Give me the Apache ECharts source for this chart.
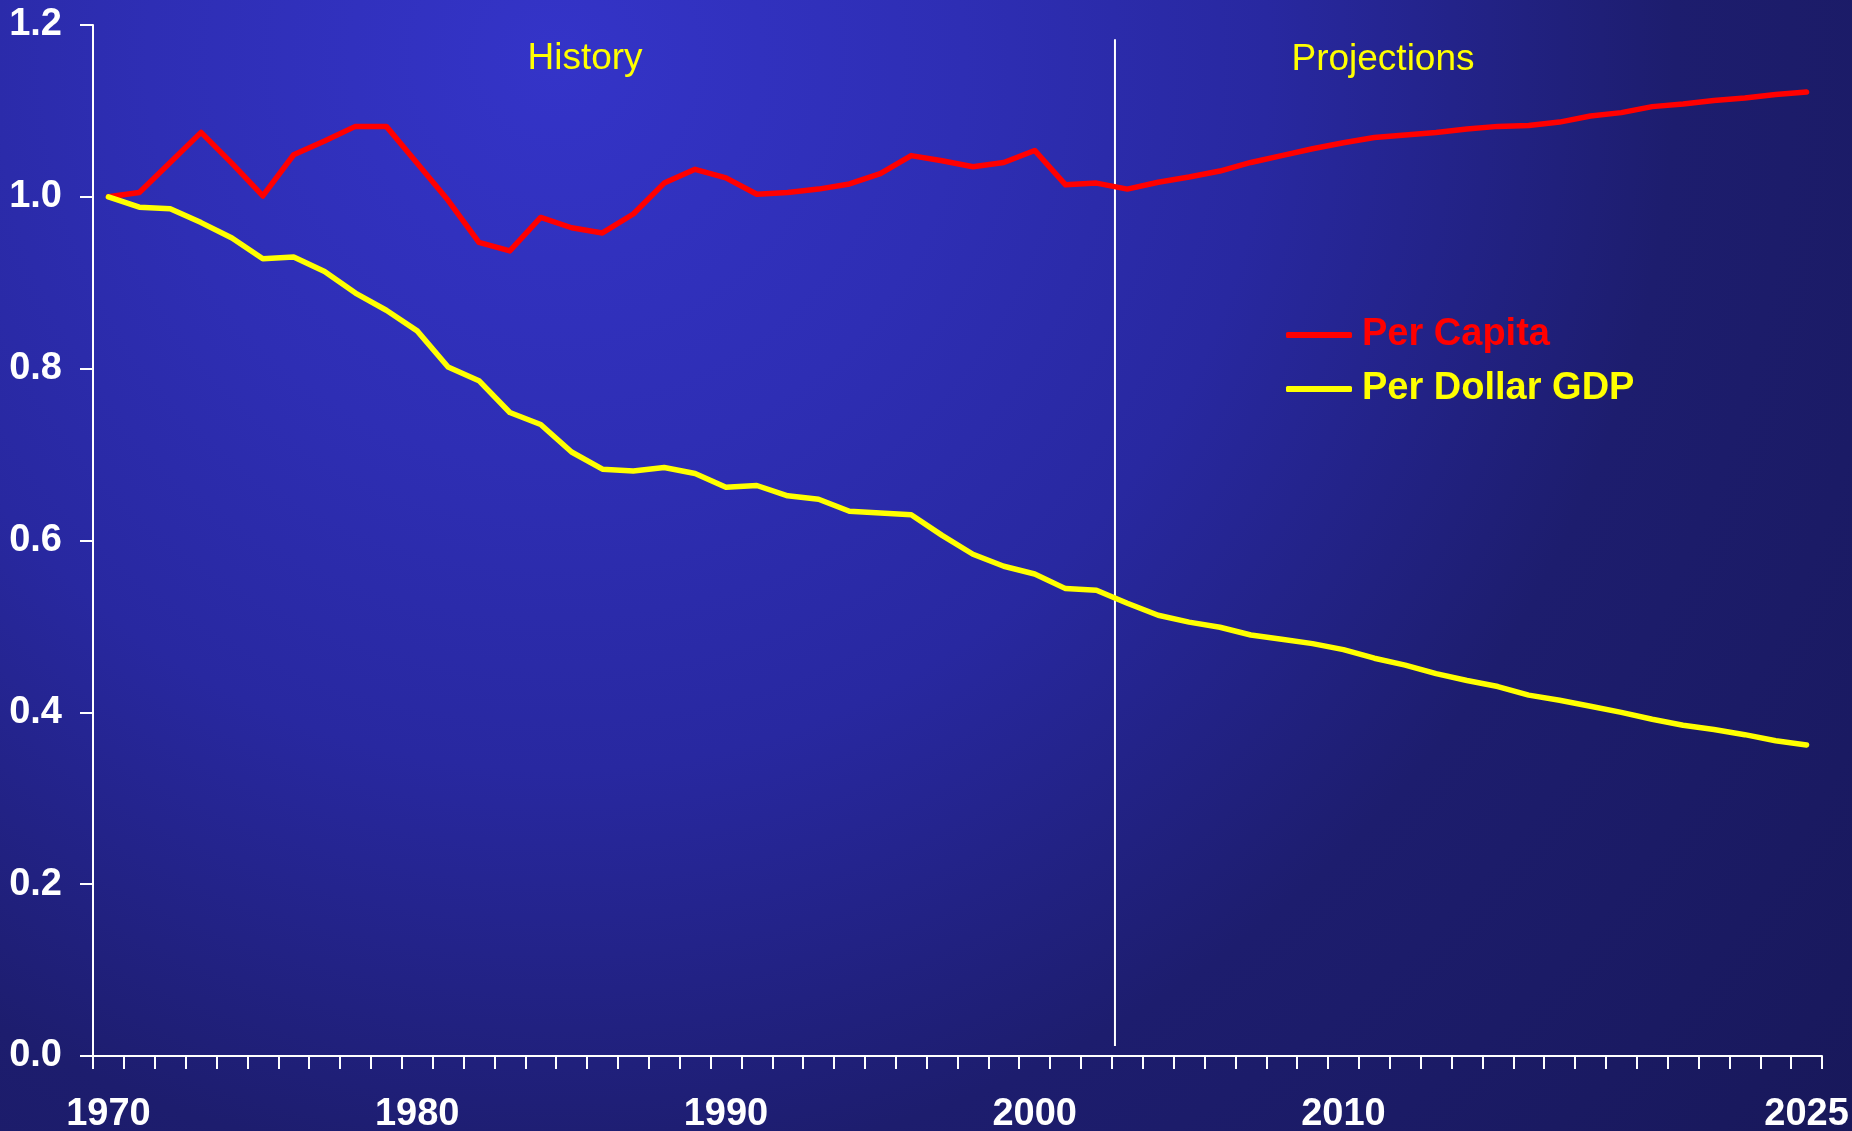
<!DOCTYPE html>
<html>
<head>
<meta charset="utf-8">
<script src="https://cdn.jsdelivr.net/npm/echarts@6/dist/echarts.min.js"></script>
<style>
html,body{margin:0;padding:0;background:#1c1c6a;}
#chart{width:1852px;height:1131px;}
</style>
</head>
<body>
<div id="chart"></div>
<script>
// ---- data ----
var years = [];
for (var y = 1970; y <= 2025; y++) years.push(String(y));

var perCapita = [
  1.000, 1.005, 1.040, 1.075, 1.039, 1.001, 1.049, 1.065, 1.082, 1.082,
  1.039, 0.996, 0.947, 0.937, 0.976, 0.964, 0.958, 0.980, 1.016, 1.032,
  1.022, 1.003, 1.005, 1.009, 1.015, 1.027, 1.048, 1.042, 1.035, 1.040,
  1.054, 1.014, 1.016, 1.009, 1.017, 1.023, 1.030, 1.040, 1.048, 1.056,
  1.063, 1.069, 1.072, 1.075, 1.079, 1.082, 1.083, 1.087, 1.094, 1.098,
  1.105, 1.108, 1.112, 1.115, 1.119, 1.122
];

var perDollarGDP = [
  1.000, 0.988, 0.986, 0.970, 0.952, 0.928, 0.930, 0.913, 0.888, 0.868,
  0.844, 0.802, 0.786, 0.749, 0.735, 0.703, 0.683, 0.681, 0.685, 0.678,
  0.662, 0.664, 0.652, 0.648, 0.634, 0.632, 0.630, 0.606, 0.584, 0.570,
  0.561, 0.544, 0.542, 0.527, 0.513, 0.505, 0.499, 0.490, 0.485, 0.480,
  0.473, 0.463, 0.455, 0.445, 0.437, 0.430, 0.420, 0.414, 0.407, 0.400,
  0.392, 0.385, 0.380, 0.374, 0.367, 0.362
];

var shownYearLabels = ['1970', '1980', '1990', '2000', '2010', '2025'];

// history / projections divider (year position) and its vertical extent
var dividerYear = 2002.6;
var dividerRange = [0.0116, 1.1835];

var seriesNames = ['Per Capita', 'Per Dollar GDP'];
var periodLabels = ['History', 'Projections'];

// ---- chart ----
var FONT = '"Liberation Sans", Arial, Helvetica, sans-serif';
var chart = echarts.init(document.getElementById('chart'), null, {renderer: 'canvas'});

var option = {
  animation: false,
  backgroundColor: {
    type: 'radial', x: 0.3, y: 0.05, r: 1.5,
    colorStops: [
      {offset: 0, color: '#3434c8'},
      {offset: 0.24, color: '#2e2eb4'},
      {offset: 0.42, color: '#2828a0'},
      {offset: 0.66, color: '#1d1d6e'},
      {offset: 1, color: '#18185a'}
    ]
  },
  grid: {left: 93, right: 30, top: 25, bottom: 75, containLabel: false, outerBoundsMode: 'none'},
  xAxis: [{
    type: 'category',
    data: years,
    boundaryGap: true,
    axisLine: {show: true, lineStyle: {color: '#ffffff', width: 2}},
    axisTick: {show: true, interval: 0, length: 13, inside: false, lineStyle: {color: '#ffffff', width: 2}},
    axisLabel: {
      interval: function (idx, val) { return shownYearLabels.indexOf(val) >= 0; },
      color: '#ffffff', fontSize: 38, fontWeight: 'bold', fontFamily: FONT, margin: 40,
      hideOverlap: false
    },
    splitLine: {show: false}
  }, {
    type: 'value', show: false, min: 1969.5, max: 2025.5,
    splitLine: {show: false}
  }],
  yAxis: {
    type: 'value', min: 0, max: 1.2, interval: 0.2,
    axisLine: {show: true, lineStyle: {color: '#ffffff', width: 2}},
    axisTick: {show: true, length: 13, lineStyle: {color: '#ffffff', width: 2}},
    axisLabel: {
      color: '#ffffff', fontSize: 38, fontWeight: 'bold', fontFamily: FONT, margin: 31,
      formatter: function (v) { return v.toFixed(1); }
    },
    splitLine: {show: false}
  },
  legend: {
    data: [
      {name: seriesNames[0], textStyle: {color: '#ff0000'}},
      {name: seriesNames[1], textStyle: {color: '#ffff00'}}
    ],
    orient: 'vertical',
    left: 1281, top: 309,
    itemWidth: 66, itemHeight: 6, itemGap: 12,
    icon: 'roundRect',
    textStyle: {fontSize: 38, fontWeight: 'bold', fontFamily: FONT, lineHeight: 42, padding: [0, 0, 0, 5]},
    selectedMode: false
  },
  series: [{
    name: seriesNames[0], type: 'line', data: perCapita,
    showSymbol: false, symbol: 'none',
    itemStyle: {color: '#ff0000'},
    lineStyle: {color: '#ff0000', width: 5.5, cap: 'round', join: 'round'},
    z: 3
  }, {
    name: seriesNames[1], type: 'line', data: perDollarGDP,
    showSymbol: false, symbol: 'none',
    itemStyle: {color: '#ffff00'},
    lineStyle: {color: '#ffff00', width: 5.5, cap: 'round', join: 'round'},
    z: 4
  }, {
    name: 'divider', type: 'line', xAxisIndex: 1, yAxisIndex: 0,
    data: [[dividerYear, dividerRange[0]], [dividerYear, dividerRange[1]]],
    showSymbol: false, symbol: 'none',
    lineStyle: {color: '#ffffff', width: 2},
    z: 2, silent: true
  }],
  graphic: [{
    type: 'text',
    style: {text: periodLabels[0], x: 585, y: 59, fill: '#ffff00', font: '37px ' + FONT,
      textAlign: 'center', textVerticalAlign: 'middle'}
  }, {
    type: 'text',
    style: {text: periodLabels[1], x: 1383, y: 60, fill: '#ffff00', font: '37px ' + FONT,
      textAlign: 'center', textVerticalAlign: 'middle'}
  }]
};
chart.setOption(option);
</script>
</body>
</html>
